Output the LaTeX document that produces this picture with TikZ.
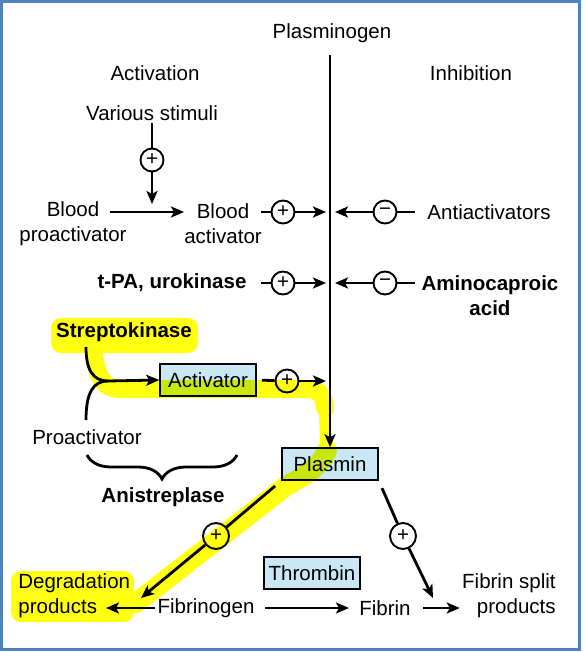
\documentclass[tikz,border=0pt]{standalone}
\usepackage{fontspec}
\setmainfont{Liberation Sans}
\usepackage{tikz}
\usetikzlibrary{arrows.meta}
\usetikzlibrary{shapes.geometric,decorations.pathreplacing}
\usepackage{xcolor}

\definecolor{framebl}{HTML}{4F81BD}
\definecolor{boxbl}{HTML}{C9E7F5}
\definecolor{hilite}{HTML}{FFFF10}

\begin{document}
\begin{tikzpicture}[x=1pt, y=-1pt, line width=2.8pt, >={Stealth[length=13pt, width=11pt, inset=3pt]},
    font=\fontsize{20.5}{25}\selectfont,
    lbl/.style={align=center, inner sep=1pt},
    sign/.style={circle, draw=black, line width=1.9pt, fill=white, inner sep=0pt, minimum size=23pt},
    agent/.style={draw=black, line width=1.6pt, fill=boxbl, minimum width=96pt, minimum height=32pt, inner sep=2pt},
    marker/.style={hilite, line width=18pt, line cap=round, line join=round}]

      \useasboundingbox (0, 0) rectangle (582, 652);
      \draw[framebl, line width=3pt] (1.5, 1.5) rectangle (579.5, 649.5);

      % headings
      \node[lbl] (pgen) at (332, 33) {Plasminogen};
      \node[lbl] (act) at (155, 73) {Activation};
      \node[lbl] (inh) at (471, 73) {Inhibition};

      % activation side
      \node[lbl] (stim) at (152, 113) {Various stimuli};
      \node[sign] (s0) at (152, 160) {+};
      \node[lbl] (bpro) at (73, 224) {Blood\\proactivator};
      \node[lbl] (bact) at (223, 224) {Blood\\activator};
      \node[sign] (s1) at (283, 212) {+};
      \node[lbl, font=\fontsize{20.5}{25}\selectfont\bfseries] (tpa) at (172, 283) {t-PA, urokinase};
      \node[sign] (s3) at (283, 283) {+};

      % inhibition side
      \node[sign] (s2) at (385, 212) {−};
      \node[lbl] (anti) at (489, 212) {Antiactivators};
      \node[sign] (s4) at (385, 283) {−};
      \node[lbl, font=\fontsize{20.5}{25}\selectfont\bfseries] (amino) at (490, 296) {Aminocaproic\\acid};

      % streptokinase
      \node[lbl, font=\fontsize{20.5}{25}\selectfont\bfseries] (strep) at (124, 332) {Streptokinase};
      \node[agent] (actv) at (208, 380) {Activator};
      \node[sign] (s5) at (287, 381) {+};
      \node[lbl] (proact) at (87, 437) {Proactivator};
      \node[lbl, font=\fontsize{20.5}{25}\selectfont\bfseries] (anis) at (163, 497) {Anistreplase};

      % plasmin and fibrin
      \node[agent] (plas) at (330, 464) {Plasmin};
      \node[sign, minimum size=26pt] (s6) at (216, 536) {+};
      \node[sign, minimum size=26pt] (s7) at (403, 536) {+};
      \node[agent] (thr) at (312, 573) {Thrombin};
      \node[lbl, align=left, anchor=west] (degr) at (16, 596) {Degradation\\products};
      \node[lbl] (fgen) at (206, 608) {Fibrinogen};
      \node[lbl] (fib) at (385, 608) {Fibrin};
      \node[lbl, align=right, anchor=east] (fsp) at (558, 596) {Fibrin split\\products};

      \coordinate (pgtop) at (330, 55);
      \coordinate (stimend) at (152, 204);
      \coordinate (bpout) at (110, 212);
      \coordinate (bain) at (184, 212);
      \coordinate (bastub) at (261, 212);
      \coordinate (tpastub) at (261, 283);
      \coordinate (antistub) at (415, 212);
      \coordinate (aminostub) at (415, 283);
      \coordinate (lin1) at (326, 212);
      \coordinate (lin2) at (326, 283);
      \coordinate (lin3) at (326, 381);
      \coordinate (rin1) at (335, 212);
      \coordinate (rin2) at (335, 283);
      \coordinate (strepfoot) at (86, 347);
      \coordinate (profoot) at (86, 420);
      \coordinate (junc) at (108, 381);
      \coordinate (degrin) at (106, 608);
      \coordinate (degrtip) at (141, 598);
      \coordinate (fibtip) at (433, 598);

      % highlighter
      \begin{scope}[blend mode=multiply]
        \fill[hilite, rounded corners=10pt] (51, 318) rectangle (198, 353);
        \fill[hilite, rounded corners=10pt] (11, 571) rectangle (134, 622);
        \draw[marker] (94, 356) .. controls (98, 378) and (104, 389) .. (120, 389) -- (306, 389)
          .. controls (318, 389) and (324, 394) .. (325, 408);
        \draw[marker, line width=12pt] (325, 406) -- (326, 446);
        \draw[marker, line width=20pt] (327, 450)
          .. controls (320, 468) and (304, 476) .. (286, 486) -- (136, 603);
      \end{scope}

      % main axis
      \draw[->] (pgtop) -- (plas.north);

      \draw (stim.south) -- (s0);
      \draw[->] (s0) -- (stimend);
      \draw[->] (bpout) -- (bain);

      \draw (bastub) -- (s1);
      \draw[->] (s1) -- (lin1);
      \draw (tpastub) -- (s3);
      \draw[->] (s3) -- (lin2);
      \draw (antistub) -- (s2);
      \draw[->] (s2) -- (rin1);
      \draw (aminostub) -- (s4);
      \draw[->] (s4) -- (rin2);

      \draw (strepfoot) .. controls (86, 370) and (93, 381) .. (junc);
      \draw (profoot) .. controls (86, 393) and (93, 381) .. (junc);
      \draw[->] (junc) -- (actv.west);
      \draw[shorten <=5pt] (actv.east) -- (s5);
      \draw[->] (s5) -- (lin3);

      \draw[decorate, decoration={brace, amplitude=24pt}] (237, 455) -- (87, 455);

      \draw[shorten <=8pt] (plas.south west) -- (s6);
      \draw[->] (s6) -- (degrtip);
      \draw[shorten <=8pt] (plas.south east) -- (s7);
      \draw[->] (s7) -- (fibtip);

      \draw[->] (fgen.west) -- (degrin);
      \draw[->, shorten <=8pt, shorten >=8pt] (fgen.east) -- (fib.west);
      \draw[->, shorten <=10pt] (fib.east) -- (fsp.west |- fib);

    \end{tikzpicture}
\end{document}
